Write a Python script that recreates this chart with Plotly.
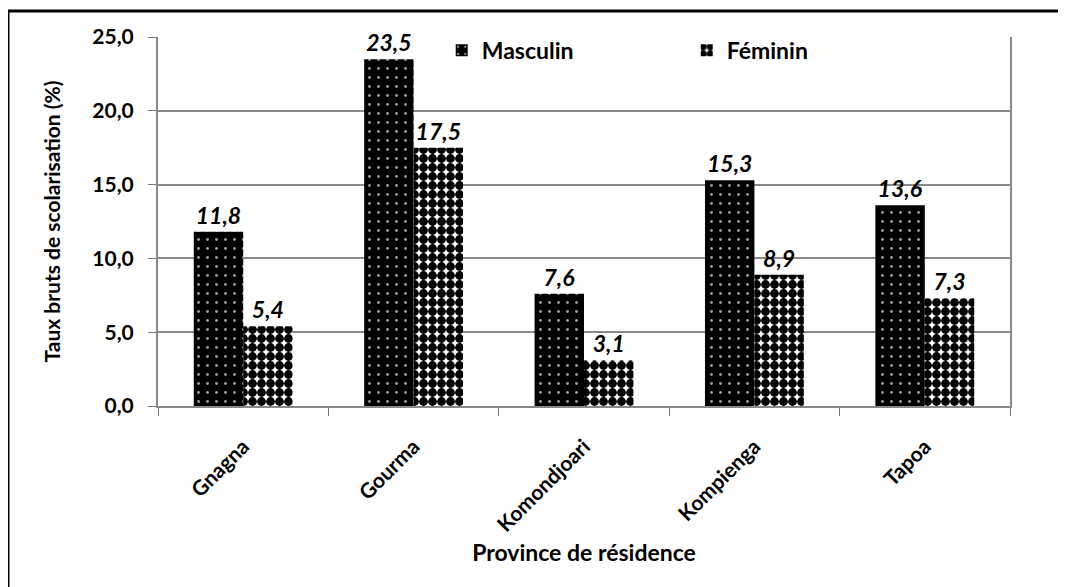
import plotly.graph_objects as go

provinces = ["Gnagna", "Gourma", "Komondjoari", "Kompienga", "Tapoa"]
masculin = [11.8, 23.5, 7.6, 15.3, 13.6]
feminin = [5.4, 17.5, 3.1, 8.9, 7.3]
y_ticks = [0, 5, 10, 15, 20, 25]

FONT = "Lato"
OFF = 8  # default page body margin
W, H = 1066, 587
L, R, T, B = 150, 64, 29, 189
pw, ph = W - L - R, H - T - B

fig = go.Figure()
fig.add_trace(go.Bar(
    name="Masculin", x=provinces, y=masculin,
    marker=dict(color="black", line=dict(width=0),
                pattern=dict(shape=".", bgcolor="black", fgcolor="#9a9a9a",
                             size=9, solidity=0.08, fillmode="replace")),
    texttemplate="%{y:.1f}", textposition="outside", cliponaxis=False,
    textfont=dict(family=FONT, size=23, color="black", weight="bold", style="italic"),
))
fig.add_trace(go.Bar(
    name="Féminin", x=provinces, y=feminin,
    marker=dict(color="white", line=dict(width=0),
                pattern=dict(shape=".", bgcolor="white", fgcolor="black",
                             size=9, solidity=0.75, fillmode="replace")),
    texttemplate="%{y:.1f}", textposition="outside", cliponaxis=False,
    textfont=dict(family=FONT, size=23, color="black", weight="bold", style="italic"),
))

fig.update_layout(
    width=W, height=H,
    margin=dict(l=L, r=R, t=T, b=B, autoexpand=False),
    paper_bgcolor="white", plot_bgcolor="white",
    separators=", ",
    barmode="group", bargap=0.42, bargroupgap=0,
    font=dict(family=FONT, color="black"),
    showlegend=True,
    legend=dict(orientation="h", x=0.333, y=1.022, xanchor="left", yanchor="top",
                bgcolor="rgba(0,0,0,0)", entrywidth=200, entrywidthmode="pixels",
                font=dict(family=FONT, size=23, color="black", weight="bold"),
                itemwidth=30, traceorder="normal"),
    xaxis=dict(
        title=dict(text="Province de résidence", standoff=10,
                   font=dict(family=FONT, size=23, color="black", weight="bold")),
        tickangle=-45, tickson="boundaries", ticks="outside", ticklen=8,
        tickcolor="#777", showline=True, linecolor="#888", linewidth=2,
        mirror=False, ticklabelstandoff=18,
        tickfont=dict(family=FONT, size=21, color="black", weight="bold"),
    ),
    yaxis=dict(
        title=dict(text="Taux bruts de scolarisation (%)", standoff=26,
                   font=dict(family=FONT, size=21, color="black", weight="bold")),
        range=[0, 25], tickvals=y_ticks, tickformat=".1f",
        ticks="outside", ticklen=8, tickcolor="#777", ticklabelstandoff=10,
        showline=True, linecolor="#888", linewidth=2, mirror=True,
        showgrid=True, gridcolor="#888", gridwidth=1.5,
        zeroline=False,
        tickfont=dict(family=FONT, size=21, color="black", weight="bold"),
    ),
    shapes=[
        dict(type="line", xref="paper", yref="paper",
             x0=(0 - L) / pw, x1=(W + 10 - L) / pw,
             y0=1 + (T - 3) / ph, y1=1 + (T - 3) / ph,
             line=dict(color="black", width=3)),
        dict(type="line", xref="paper", yref="paper",
             x0=(0 - L) / pw, x1=(0 - L) / pw,
             y0=1 + (T - 3) / ph, y1=-(B + 10) / ph,
             line=dict(color="black", width=3)),
    ],
)

fig.write_html("out.html")
